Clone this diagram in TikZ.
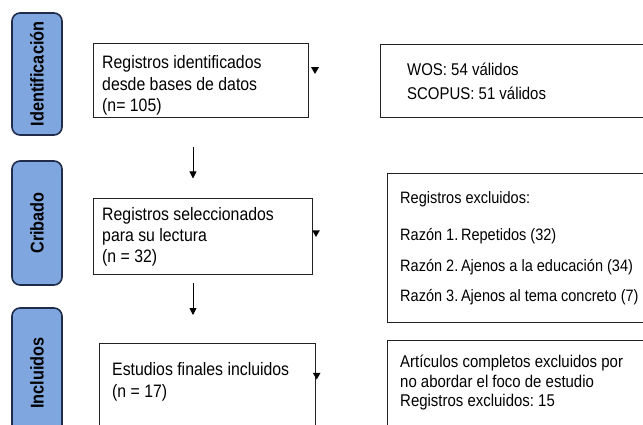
\documentclass[tikz,border=0pt]{standalone}
\usepackage{fontspec}
\setmainfont[FakeStretch=0.88]{Liberation Sans}
\usetikzlibrary{shapes.geometric,arrows.meta}
\definecolor{phasefill}{HTML}{7FA6DE}
\definecolor{phaseline}{HTML}{1F2D4A}
\definecolor{boxline}{HTML}{222222}
\tikzset{
  phase/.style={draw=phaseline, line width=1.6pt, fill=phasefill, rounded corners=8pt,
    rotate=90, inner sep=0pt, font=\fontsize{18.5}{20}\selectfont\bfseries},
  boxnode/.style={draw=boxline, line width=1.3pt, inner sep=0pt, anchor=north west},
  ltxt/.style={anchor=north west, inner sep=0pt, align=left, font=\fontsize{18}{21.5}\selectfont},
  rtxt/.style={anchor=north west, inner sep=0pt, align=left, font=\fontsize{17}{24}\selectfont},
  tri/.style={regular polygon, regular polygon sides=3, shape border rotate=180,
    fill=black, draw=none, inner sep=0pt, minimum size=9pt},
  flow/.style={-{Triangle[width=7pt,length=7pt]}, line width=0.9pt}
}
\frenchspacing
\begin{document}
\begin{tikzpicture}[x=1pt,y=-1pt]
\useasboundingbox (0,0) rectangle (643,425);
\fill[white] (0,0) rectangle (643,425);
\begin{scope}
\clip (0,0) rectangle (643,425);
% phase labels
\node[phase, minimum width=122pt, minimum height=50pt] (p1) at (37,74) {Identificación};
\node[phase, minimum width=124pt, minimum height=50pt] (p2) at (37,223) {Cribado};
\node[phase, minimum width=130pt, minimum height=50pt] (p3) at (37,373) {Incluidos};
% left boxes
\node[boxnode, minimum width=215pt, minimum height=74pt] (A) at (93,43) {};
\node[boxnode, minimum width=219pt, minimum height=76pt] (C) at (93,198) {};
\node[boxnode, minimum width=216pt, minimum height=110pt] (E) at (99,343) {};
\node[ltxt] (tA) at (102,55.5) {Registros identificados\\desde bases de datos\\(n= 105)};
\node[ltxt, font=\fontsize{18}{21}\selectfont] (tC) at (102,207) {Registros seleccionados\\para su lectura\\(n = 32)};
\node[ltxt, font=\fontsize{18}{22}\selectfont] (tE) at (112,362) {Estudios finales incluidos\\(n = 17)};
% right boxes
\node[boxnode, minimum width=290pt, minimum height=73pt] (B) at (380,44) {};
\node[boxnode, minimum width=290pt, minimum height=149pt] (D) at (387,173) {};
\node[boxnode, minimum width=290pt, minimum height=110pt] (F) at (387,340) {};
\node[rtxt] (tB) at (407,62.6) {WOS: 54 válidos\\SCOPUS: 51 válidos};
\node[rtxt, font=\fontsize{16.5}{30.5}\selectfont] (tD) at (400,191.8) {Registros excluidos:\\[6.5pt]Razón 1.\,Repetidos (32)\\Razón 2.\,Ajenos a la educación (34)\\Razón 3.\,Ajenos al tema concreto (7)};
\node[rtxt, font=\fontsize{17}{19.7}\selectfont] (tF) at (400,354.6) {Artículos completos excluidos por\\no abordar el foco de estudio\\Registros excluidos: 15};
% small triangles
\node[tri] (m1) at (315,69.5) {};
\node[tri] (m2) at (316,232.5) {};
\node[tri] (m3) at (316.7,375) {};
% arrows
\coordinate (a1) at (193,147);
\coordinate (a2) at (193,178.5);
\coordinate (b1) at (193,283);
\coordinate (b2) at (193,315);
\draw[flow] (a1) -- (a2);
\draw[flow] (b1) -- (b2);
\end{scope}
\end{tikzpicture}
\end{document}
